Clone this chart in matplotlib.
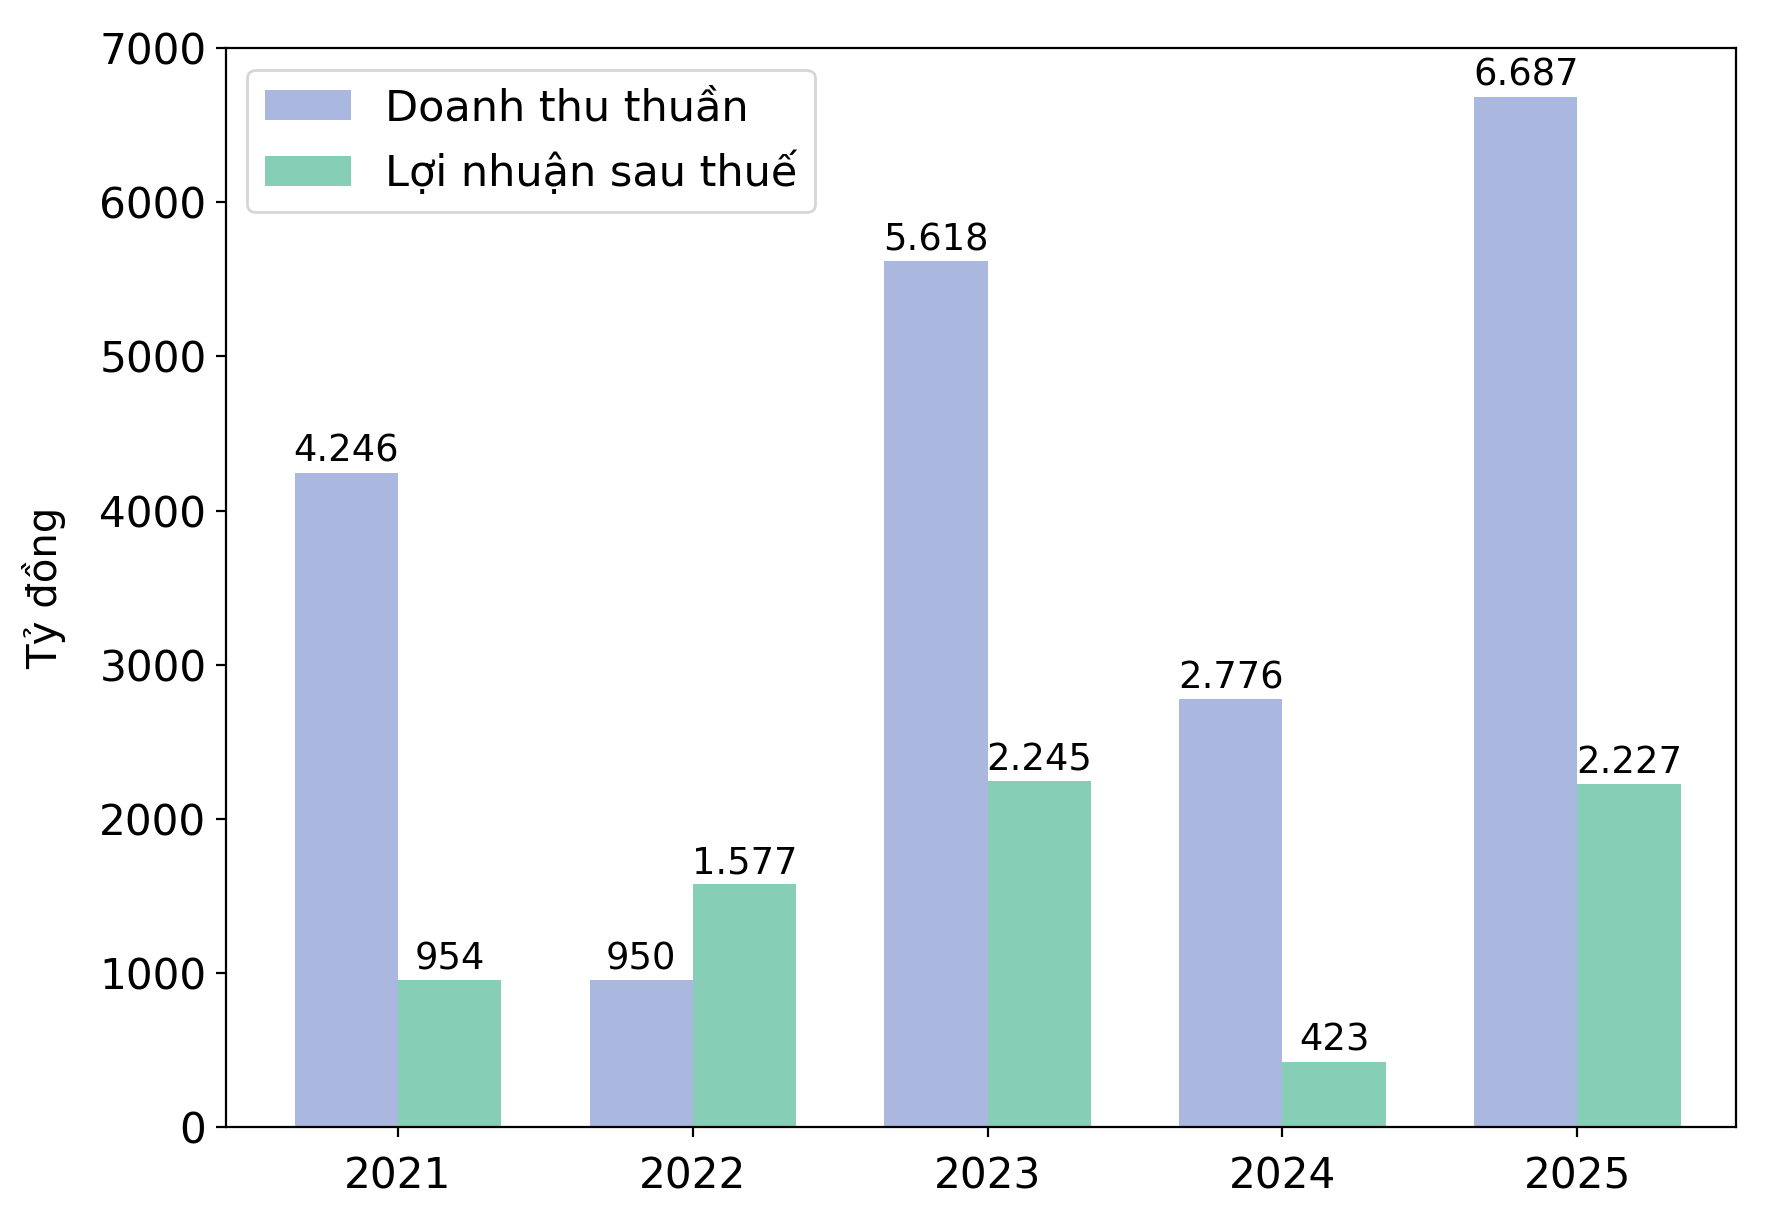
import matplotlib.pyplot as plt
import numpy as np

years = ["2021", "2022", "2023", "2024", "2025"]
doanh_thu = [4246, 950, 5618, 2776, 6687]
loi_nhuan = [954, 1577, 2245, 423, 2227]
yticks = [0, 1000, 2000, 3000, 4000, 5000, 6000, 7000]


def fmt(v):
    return f"{v:,}".replace(",", ".")


fig = plt.figure(figsize=(8.86, 6.045), dpi=200)
ax = fig.add_axes([0.1275, 0.068, 0.852, 0.892])

x = np.arange(len(years))
w = 0.35
b1 = ax.bar(x - w / 2, doanh_thu, w, color="#aab7de", label="Doanh thu thuần")
b2 = ax.bar(x + w / 2, loi_nhuan, w, color="#86cfb6", label="Lợi nhuận sau thuế")

ax.bar_label(b1, labels=[fmt(v) for v in doanh_thu], padding=1, fontsize=13.3)
ax.bar_label(b2, labels=[fmt(v) for v in loi_nhuan], padding=1, fontsize=13.3)

ax.set_xticks(x)
ax.set_xticklabels(years)
ax.set_xlim(-0.583, 4.537)
ax.set_yticks(yticks)
ax.set_ylim(0, 7000)
ax.tick_params(labelsize=15.2)
ax.tick_params(axis="x", pad=7)
ax.set_ylabel("Tỷ đồng", fontsize=14.5, labelpad=12)
ax.legend(loc="upper left", fontsize=15.5)

fig.savefig("out.png", dpi=200)
plt.close(fig)
